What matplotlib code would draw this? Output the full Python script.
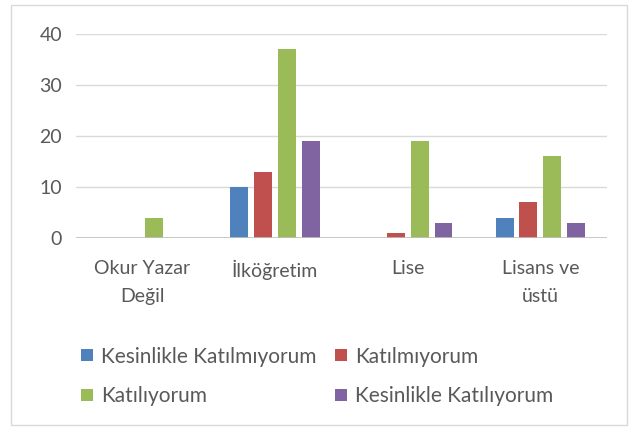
import numpy as np
import matplotlib.pyplot as plt
from matplotlib.patches import Rectangle

plt.rcParams['font.family'] = ['Lato', 'DejaVu Sans']

categories = ['Okur Yazar\nDeğil', 'İlköğretim', 'Lise', 'Lisans ve\nüstü']
series_names = ['Kesinlikle Katılmıyorum', 'Katılmıyorum', 'Katılıyorum', 'Kesinlikle Katılıyorum']
kesinlikle_katilmiyorum = [0, 10, 0, 4]
katilmiyorum = [0, 13, 1, 7]
katiliyorum = [4, 37, 19, 16]
kesinlikle_katiliyorum = [0, 19, 3, 3]
colors = ['#4F81BD', '#C0504D', '#9BBB59', '#8064A2']
yticks = [0, 10, 20, 30, 40]

values = [kesinlikle_katilmiyorum, katilmiyorum, katiliyorum, kesinlikle_katiliyorum]
txt = '#595959'

fig = plt.figure(figsize=(6.38, 4.29), dpi=100)
fig.patches.append(Rectangle((0.018, 0.01), 0.964, 0.978, transform=fig.transFigure,
                             fill=False, edgecolor='#D9D9D9', linewidth=1))
ax = fig.add_axes([0.119, 0.445, 0.832, 0.476])

x = np.arange(len(categories))
w = 0.135
step = 0.18
bars = []
for i, (vals, c) in enumerate(zip(values, colors)):
    b = ax.bar(x + (i - 1.5) * step, vals, width=w, color=c, zorder=3)
    bars.append(b)

ax.set_xlim(-0.5, 3.5)
ax.set_ylim(0, 40)
ax.set_yticks(yticks)
ax.grid(axis='y', color='#D9D9D9', linewidth=1, zorder=0)
ax.axhline(0, color='#BFBFBF', linewidth=1.2, zorder=4)
for s in ax.spines.values():
    s.set_visible(False)
ax.tick_params(length=0, labelsize=14, colors=txt, pad=10)
ax.tick_params(axis='x', pad=16)
ax.set_xticks(x)
ax.set_xticklabels(categories, linespacing=1.75)
for lbl in ax.get_xticklabels():
    lbl.set_verticalalignment('top')

order = [0, 2, 1, 3]
fig.legend([bars[i] for i in order], [series_names[i] for i in order],
           ncol=2, loc='upper left', bbox_to_anchor=(0.098, 0.236), frameon=False,
           fontsize=15, labelcolor=txt, handlelength=0.55, handleheight=0.55,
           handletextpad=0.4, columnspacing=0.9, labelspacing=0.95)

fig.savefig('out.png', dpi=100)
